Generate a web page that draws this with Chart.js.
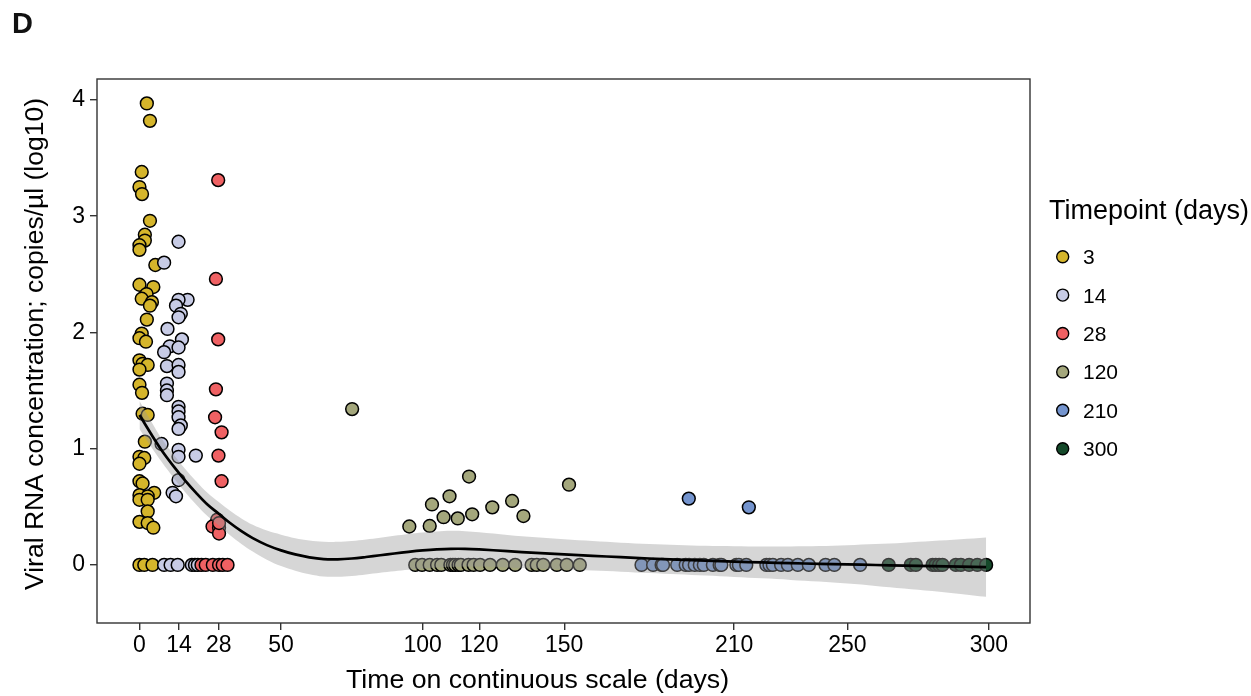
<!DOCTYPE html>
<html>
<head>
<meta charset="utf-8">
<script src="https://cdn.jsdelivr.net/npm/chart.js@4/dist/chart.umd.min.js"></script>
<style>
  html, body { margin: 0; padding: 0; background: #fff; }
  canvas { display: block; }
</style>
</head>
<body>
<canvas id="chart" width="1251" height="696"></canvas>
<script>
// Timepoint groups and their fill colours
const timepoints = ['3', '14', '28', '120', '210', '300'];
const groupColors = ['#D5B52B', '#C7CBE5', '#EF6163', '#A4A77C', '#7494CE', '#15492A'];

// [day, log10 copies/µl] per timepoint group
const tp3 = [
  [2.6, 3.97], [3.7, 3.82], [0.8, 3.38], [0, 3.25], [0.9, 3.19], [3.7, 2.96], [1.9, 2.84], [1.9, 2.79],
  [0, 2.75], [0, 2.71], [5.6, 2.58], [0, 2.41], [4.9, 2.39], [2.5, 2.33], [0.8, 2.29], [4.4, 2.26],
  [3.7, 2.23], [2.6, 2.11], [0.8, 1.99], [0, 1.95], [2.3, 1.92], [0, 1.76], [1.1, 1.73], [2.9, 1.72],
  [0, 1.68], [0, 1.55], [0.9, 1.48], [1.1, 1.30], [2.9, 1.29], [1.9, 1.06], [0, 0.93], [1.7, 0.92],
  [0, 0.87], [0, 0.72], [1.1, 0.70], [5.2, 0.62], [0, 0.60], [2.9, 0.59], [0, 0.56], [2.9, 0.56],
  [2.9, 0.46], [0, 0.37], [2.9, 0.36], [4.9, 0.32], [0, 0], [1.7, 0], [4.6, 0]
];
const tp14 = [
  [13.8, 2.78], [8.7, 2.60], [17, 2.28], [13.8, 2.28], [12.9, 2.23], [14.6, 2.16], [13.8, 2.13], [9.9, 2.03],
  [15, 1.94], [10.7, 1.88], [13.8, 1.87], [8.7, 1.83], [9.7, 1.71], [13.8, 1.72], [13.8, 1.66], [9.7, 1.56],
  [9.7, 1.50], [9.7, 1.46], [13.8, 1.36], [13.8, 1.32], [13.8, 1.27], [14.6, 1.20], [13.8, 1.17], [7.8, 1.04],
  [13.8, 0.99], [13.8, 0.93], [19.9, 0.94], [13.8, 0.73], [11.7, 0.62], [12.9, 0.59],
  [8.7, 0], [11, 0], [13.5, 0], [18.5, 0], [19.6, 0], [20.6, 0]
];
const tp28 = [
  [27.8, 3.31], [27, 2.46], [27.8, 1.94], [27, 1.51], [26.7, 1.27], [29, 1.14], [27.9, 0.94], [29, 0.72],
  [27.5, 0.39], [25.8, 0.33], [28.1, 0.32], [28.1, 0.27], [28.1, 0.36],
  [21.9, 0], [23.4, 0], [25.9, 0], [28.1, 0], [29.4, 0], [31.1, 0]
];
const tp120 = [
  [75.1, 1.34], [95.3, 0.33], [102.5, 0.335], [103.3, 0.52], [107.4, 0.41], [109.5, 0.59], [112.4, 0.40],
  [116.4, 0.76], [117.5, 0.435], [124.6, 0.495], [131.6, 0.55], [135.6, 0.42], [151.7, 0.69],
  [97.4, 0], [99.8, 0], [102.5, 0], [105.1, 0], [106.6, 0], [109.8, 0], [110.7, 0], [111.5, 0],
  [112.7, 0], [113.5, 0], [116.2, 0], [118.0, 0], [120.3, 0], [123.8, 0], [128.3, 0], [132.7, 0],
  [138.5, 0], [140.3, 0], [142.6, 0], [147.4, 0], [150.9, 0], [155.5, 0]
];
const tp210 = [
  [194, 0.57], [215.2, 0.495],
  [177.3, 0], [181.4, 0], [184.4, 0], [184.9, 0], [189.9, 0], [192.9, 0], [194.1, 0], [196.1, 0],
  [197.9, 0], [199.3, 0], [202.5, 0], [204.9, 0], [205.5, 0], [210.8, 0], [211.7, 0], [214.3, 0],
  [221.4, 0], [222.5, 0], [223.7, 0], [226.6, 0], [229.0, 0], [232.5, 0], [236.4, 0], [242.3, 0],
  [245.4, 0], [254.5, 0]
];
const tp300 = [
  [264.6, 0], [272.4, 0], [274.2, 0], [280.1, 0], [281.2, 0], [282.4, 0], [283.6, 0], [288.3, 0],
  [290.1, 0], [293.0, 0], [295.9, 0], [299, 0]
];
const groups = [tp3, tp14, tp28, tp120, tp210, tp300];

// Smoothed trend with its confidence band
const fitDays = [0, 4, 8, 12, 16, 20, 24, 28, 32, 36, 40, 45, 50, 55, 60, 65, 70, 75, 80, 85, 90, 95, 100,
  105, 110, 115, 120, 130, 140, 150, 160, 170, 180, 190, 200, 210, 220, 230, 240, 250, 260, 270, 280, 290, 299];
const fitMean = [1.29, 1.13, 0.98, 0.85, 0.73, 0.62, 0.52, 0.44, 0.36, 0.29, 0.23, 0.17, 0.125, 0.09, 0.065,
  0.05, 0.048, 0.055, 0.068, 0.083, 0.098, 0.112, 0.124, 0.133, 0.138, 0.138, 0.133, 0.118, 0.103, 0.09,
  0.078, 0.066, 0.055, 0.045, 0.036, 0.028, 0.021, 0.015, 0.009, 0.004, -0.001, -0.006, -0.01, -0.015, -0.02];
const fitLow = [1.17, 1.02, 0.88, 0.75, 0.63, 0.52, 0.42, 0.34, 0.255, 0.18, 0.115, 0.045, -0.01, -0.05, -0.08,
  -0.10, -0.102, -0.095, -0.082, -0.067, -0.054, -0.042, -0.031, -0.022, -0.017, -0.014, -0.015, -0.022, -0.031,
  -0.04, -0.049, -0.059, -0.07, -0.081, -0.092, -0.104, -0.116, -0.129, -0.144, -0.161, -0.181, -0.203, -0.225,
  -0.25, -0.275];
const fitHigh = [1.41, 1.24, 1.08, 0.95, 0.83, 0.72, 0.62, 0.54, 0.465, 0.40, 0.345, 0.295, 0.26, 0.23, 0.21,
  0.20, 0.198, 0.205, 0.218, 0.233, 0.25, 0.266, 0.279, 0.288, 0.293, 0.29, 0.281, 0.258, 0.237, 0.22, 0.205,
  0.191, 0.18, 0.171, 0.164, 0.16, 0.158, 0.159, 0.162, 0.169, 0.179, 0.191, 0.205, 0.22, 0.235];

// Axis tick values and titles
const xTicks = [0, 14, 28, 50, 100, 120, 150, 210, 250, 300];
const yTicks = [0, 1, 2, 3, 4];
const xTitle = 'Time on continuous scale (days)';
const yTitle = 'Viral RNA concentration; copies/µl (log10)';
const keyTitle = 'Timepoint (days)';

const FONT = '"Liberation Sans", Arial, Helvetica, sans-serif';
const toXY = (xs, ys) => xs.map((x, i) => ({ x: x, y: ys[i] }));

const datasets = [
  {
    type: 'line', label: 'fit', data: toXY(fitDays, fitMean), order: 0,
    borderColor: '#000', borderWidth: 2.7, pointRadius: 0, tension: 0.35, fill: false
  },
  {
    type: 'line', label: 'upper', data: toXY(fitDays, fitHigh), order: 1,
    borderWidth: 0, borderColor: 'rgba(0,0,0,0)', pointRadius: 0, tension: 0.35,
    backgroundColor: 'rgba(153,153,153,0.4)', fill: 2
  },
  {
    type: 'line', label: 'lower', data: toXY(fitDays, fitLow), order: 2,
    borderWidth: 0, borderColor: 'rgba(0,0,0,0)', pointRadius: 0, tension: 0.35, fill: false
  }
];
groups.forEach((g, i) => {
  datasets.push({
    type: 'scatter', label: timepoints[i], isGroup: true, order: 10 - i,
    data: g.map(p => ({ x: p[0], y: p[1] })),
    backgroundColor: groupColors[i], borderColor: '#000',
    pointRadius: 6.4, pointBorderWidth: 1.5, pointHoverRadius: 6.4
  });
});

// Panel frame drawn over the data
const framePlugin = {
  id: 'frame',
  afterDatasetsDraw(chart) {
    const { ctx, chartArea: a } = chart;
    ctx.save();
    ctx.strokeStyle = '#333';
    ctx.lineWidth = 1.4;
    ctx.strokeRect(a.left, a.top, a.right - a.left, a.bottom - a.top);
    ctx.restore();
  }
};

// Axis titles
const axisTitlePlugin = {
  id: 'axisTitles',
  afterDraw(chart) {
    const { ctx, chartArea: a } = chart;
    ctx.save();
    ctx.fillStyle = '#000';
    ctx.textAlign = 'center';
    ctx.textBaseline = 'middle';
    ctx.font = '26.7px ' + FONT;
    ctx.fillText(xTitle, (a.left + a.right) / 2 - 26, 680.5);
    ctx.translate(35.6, (a.top + a.bottom) / 2 - 7);
    ctx.rotate(-Math.PI / 2);
    ctx.font = '26.5px ' + FONT;
    ctx.fillText(yTitle, 0, 0);
    ctx.restore();
  }
};

// Timepoint key on the right
const keyPlugin = {
  id: 'timepointKey',
  afterDraw(chart) {
    const ctx = chart.ctx;
    const x0 = chart.chartArea.right + 19;
    ctx.save();
    ctx.textAlign = 'left';
    ctx.textBaseline = 'alphabetic';
    ctx.fillStyle = '#000';
    ctx.font = '27px ' + FONT;
    ctx.fillText(keyTitle, x0, 218.5);
    chart.data.datasets.filter(d => d.isGroup).forEach((ds, i) => {
      const cy = 256.7 + i * 38.4;
      ctx.beginPath();
      ctx.arc(x0 + 13.7, cy, 6, 0, Math.PI * 2);
      ctx.fillStyle = ds.backgroundColor;
      ctx.fill();
      ctx.lineWidth = 1.4;
      ctx.strokeStyle = '#000';
      ctx.stroke();
      ctx.fillStyle = '#000';
      ctx.font = '21px ' + FONT;
      ctx.fillText(ds.label, x0 + 34, cy + 7.5);
    });
    ctx.restore();
  }
};

new Chart(document.getElementById('chart'), {
  type: 'scatter',
  data: { datasets: datasets },
  plugins: [framePlugin, axisTitlePlugin, keyPlugin],
  options: {
    responsive: false,
    animation: false,
    layout: { padding: { left: 12, right: 221, top: 0, bottom: 0 } },
    plugins: {
      legend: { display: false },
      tooltip: { enabled: false },
      title: {
        display: true, text: 'D', align: 'start', color: '#111',
        font: { family: FONT, size: 29, weight: 'bold' },
        padding: { top: 7.5, bottom: 36.7 }
      }
    },
    scales: {
      x: {
        type: 'linear', min: -15, max: 314.5,
        afterBuildTicks: s => { s.ticks = xTicks.map(v => ({ value: v })); },
        afterFit: s => { s.height = 73; },
        ticks: { autoSkip: false, maxRotation: 0, color: '#000', padding: 2, font: { family: FONT, size: 23 } },
        grid: { drawOnChartArea: false, drawTicks: true, tickLength: 7, color: '#333', lineWidth: 1.4 },
        border: { display: false },
        title: { display: false }
      },
      y: {
        type: 'linear', min: -0.5, max: 4.18,
        afterBuildTicks: s => { s.ticks = yTicks.map(v => ({ value: v })); },
        afterFit: s => { s.width = 85; },
        ticks: { color: '#000', padding: 5, font: { family: FONT, size: 23 } },
        grid: { drawOnChartArea: false, drawTicks: true, tickLength: 7, color: '#333', lineWidth: 1.4 },
        border: { display: false },
        title: { display: false }
      }
    }
  }
});
</script>
</body>
</html>
